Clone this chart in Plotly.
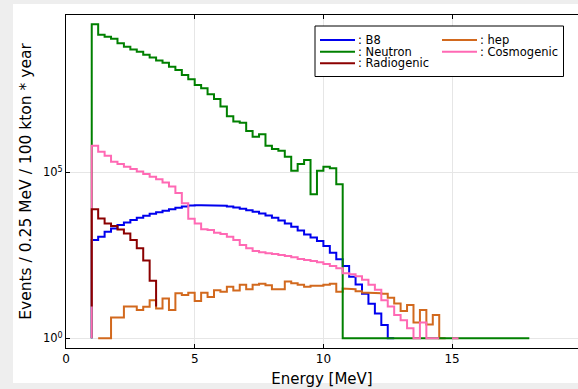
import plotly.graph_objects as go

BIN_WIDTH = 0.25  # MeV

# ---- data (events / 0.25 MeV / 100 kton * year) ----
b8_start = 1.0
b8_events = [912, 1148, 1622, 2042, 2570, 3090, 3631, 4266, 4898, 5623, 6310, 6918,
             7762, 8511, 9333, 10000, 10230, 10230, 10230, 10000, 9772, 9333, 8710,
             7943, 7244, 6457, 5754, 5012, 4266, 3548, 2884, 2291, 1778, 1349, 1096,
             851, 603, 380, 240, 151, 72, 42, 22, 11, 5.6, 2.5, 1]

hep_start = 1.25
hep_events = [1, 1, 4.2, 4.2, 9.1, 9.1, 7.1, 8.9, 14.1, 7.9, 15.8, 7.1, 22.9, 20.0,
              23.4, 13.2, 23.4, 17.4, 28.2, 25.1, 35.5, 27.5, 40.7, 30.2, 40.7, 43.7,
              39.8, 30.2, 30.2, 51.3, 45.7, 40.7, 35.5, 38.0, 38.0, 40.7, 43.7, 25.1,
              31.6, 30.2, 26.3, 24.0, 23.4, 22.9, 21.9, 16.6, 11.2, 6.6, 10, 3.0, 7.1,
              2.6, 5.0, 1]

neutron_start = 1.0
neutron_events = [2.88e9, 1.38e9, 1.20e9, 1.05e9, 7.76e8, 6.03e8, 5.01e8, 4.27e8,
                  3.47e8, 2.88e8, 2.34e8, 2.00e8, 1.51e8, 1.20e8, 8.51e7, 6.31e7,
                  4.27e7, 3.39e7, 2.24e7, 1.62e7, 9.55e6, 4.90e6, 3.39e6, 3.09e6,
                  1.74e6, 1.17e6, 1.41e6, 6.31e5, 5.01e5, 4.47e5, 2.95e5, 1.12e5,
                  1.78e5, 2.34e5, 2.19e4, 1.12e5, 1.48e5, 1.32e5, 4.37e4,
                  1, 1, 1, 1, 1, 1, 1, 1, 1, 1, 1, 1, 1, 1, 1, 1, 1, 1, 1, 1,
                  1, 1, 1, 1, 1, 1, 1, 1, 1]

cosmogenic_start = 1.0
cosmogenic_events = [6.31e5, 4.17e5, 3.16e5, 2.09e5, 1.78e5, 1.48e5, 1.26e5, 1.05e5,
                     8.91e4, 7.41e4, 6.17e4, 4.90e4, 3.72e4, 2.40e4, 1.17e4, 3980,
                     2880, 1910, 1820, 1510, 1380, 1150, 912, 646, 513, 427, 389, 363,
                     347, 324, 302, 275, 245, 229, 214, 195, 174, 151, 129, 91, 85, 74,
                     58, 41, 29, 14, 9, 5, 3.5, 2, 1, 3, 1, 1, None, None, 1]

radiogenic_start = 1.0
radiogenic_events = [7762, 4074, 2884, 2399, 1905, 1445, 912, 513, 219, 54]
radiogenic_baseline = 9

x_ticks = [0, 5, 10, 15, 20]
y_ticks = [1, 1e5]
y_tick_text = ["10<sup>0</sup>", "10<sup>5</sup>"]


def step_path(start, values, floor_start=None, floor_end=None):
    xs, ys = [], []
    if floor_start is not None:
        xs.append(start)
        ys.append(floor_start)
    last_right = start
    for i, v in enumerate(values):
        left = start + i * BIN_WIDTH
        right = left + BIN_WIDTH
        if v is None:
            xs.append(None)
            ys.append(None)
            continue
        xs += [left, right]
        ys += [v, v]
        last_right = right
    if floor_end is not None:
        xs.append(last_right)
        ys.append(floor_end)
    return xs, ys


series = [
    (": B8", b8_start, b8_events, "#0000ee", 1, None),
    (": hep", hep_start, hep_events, "#d2691e", None, None),
    (": Neutron", neutron_start, neutron_events, "#008000", 1, None),
    (": Cosmogenic", cosmogenic_start, cosmogenic_events, "#ff69b4", 1, None),
    (": Radiogenic", radiogenic_start, radiogenic_events, "#8b0000",
     radiogenic_baseline, radiogenic_baseline),
]

fig = go.Figure()
for name, start, vals, color, f0, f1 in series:
    xs, ys = step_path(start, vals, f0, f1)
    fig.add_trace(go.Scatter(x=xs, y=ys, mode="lines", name=name,
                             line=dict(color=color, width=2),
                             connectgaps=False, showlegend=False))

W, H = 578, 389
ML, MR, MT, MB = 66, 0, 15, 41
PW = W - ML - MR
PH = H - MT - MB


def px(x):
    return (x - ML) / PW


def py(y):
    return (H - MB - y) / PH


FONT = "DejaVu Sans"
shapes = [
    dict(type="rect", xref="paper", yref="paper", x0=px(13), x1=px(590),
         y0=py(383), y1=py(4), fillcolor="white", line=dict(width=0), layer="below"),
    dict(type="rect", xref="paper", yref="paper", x0=px(315), x1=px(563.5),
         y0=py(76.5), y1=py(26), fillcolor="white",
         line=dict(color="black", width=1), layer="above"),
]
annotations = []
legend_slots = {
    ": B8": (320, 40), ": Neutron": (320, 51.7), ": Radiogenic": (320, 63.3),
    ": hep": (442, 40), ": Cosmogenic": (442, 51.7),
}
for name, start, vals, color, f0, f1 in series:
    lx, ly = legend_slots[name]
    shapes.append(dict(type="line", xref="paper", yref="paper", x0=px(lx),
                       x1=px(lx + 35), y0=py(ly), y1=py(ly),
                       line=dict(color=color, width=2), layer="above"))
    annotations.append(dict(x=px(lx + 37), y=py(ly), xref="paper", yref="paper",
                            text=name, showarrow=False, xanchor="left",
                            yanchor="middle", borderpad=0,
                            font=dict(family=FONT, size=11.5, color="black")))

fig.update_layout(
    width=W, height=H,
    margin=dict(l=ML, r=MR, t=MT, b=MB, autoexpand=False),
    paper_bgcolor="#eeeeee", plot_bgcolor="white",
    font=dict(family=FONT, color="black"),
    shapes=shapes, annotations=annotations,
    showlegend=False,
)
fig.update_xaxes(
    range=[0, PW / 25.74], tickvals=x_ticks, ticks="inside", ticklen=4,
    tickcolor="black", showline=True, linecolor="black", linewidth=1,
    mirror="allticks", showgrid=True, gridcolor="#e6e6e6", gridwidth=1,
    zeroline=False, tickfont=dict(size=12),
    title=dict(text="Energy [MeV]", font=dict(size=15), standoff=8),
)
fig.update_yaxes(
    type="log", range=[-0.292, 9.738], tickvals=y_ticks, ticktext=y_tick_text,
    ticks="inside", ticklen=4, tickcolor="black", showline=True,
    linecolor="black", linewidth=1, mirror=False, showgrid=True,
    gridcolor="#e6e6e6", gridwidth=1, zeroline=False, tickfont=dict(size=11.5),
    title=dict(text="Events / 0.25 MeV / 100 kton * year", font=dict(size=15.5),
               standoff=7),
)

fig.write_html("out.html")
